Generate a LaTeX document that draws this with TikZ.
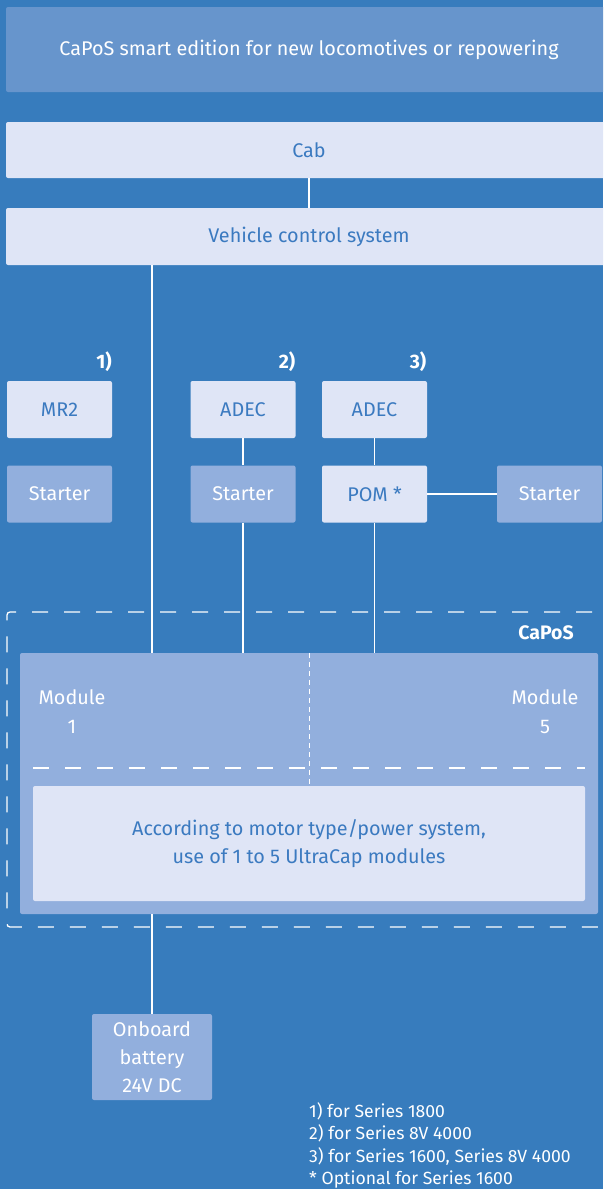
\documentclass[tikz,border=0pt]{standalone}
\usepackage{fontspec}
\setmainfont{Fira Sans}
\usepackage{tikz}
\usetikzlibrary{positioning}
\definecolor{capbg}{RGB}{55,124,189}
\definecolor{captitle}{RGB}{103,149,204}
\definecolor{caplight}{RGB}{223,229,246}
\definecolor{capmid}{RGB}{146,175,221}
\definecolor{captext}{RGB}{59,122,192}

\begin{document}
\begin{tikzpicture}[x=1pt,y=-1pt,
  box/.style={rounded corners=2pt,inner sep=0pt,align=center,font=\fontsize{19.8}{28}\selectfont},
  lightbox/.style={box,fill=caplight,text=captext},
  midbox/.style={box,fill=capmid,text=white},
  small/.style={lightbox,minimum width=105pt,minimum height=57pt},
  smallmid/.style={midbox,minimum width=105pt,minimum height=57pt},
  tag/.style={text=white,font=\fontsize{19.5}{22}\selectfont\bfseries},
  link/.style={draw=white,line width=1.3pt}]
\clip (0,0) rectangle (603,1189);
\fill[capbg] (0,0) rectangle (603,1189);

% Header
\node[box,fill=captitle,text=white,minimum width=606pt,minimum height=85pt] (title) at (309,49.5) {CaPoS smart edition for new locomotives or repowering};
\node[lightbox,minimum width=606pt,minimum height=56pt] (cab) at (309,150) {Cab};
\node[lightbox,minimum width=606pt,minimum height=57pt] (vcs) at (309,236.5) {Vehicle control system};

% Engine variants
\node[tag] (varA) at (104,362) {1)};
\node[tag] (varB) at (287,362) {2)};
\node[tag] (varC) at (418,362) {3)};
\node[small] (mrtwo) at (59.5,409.5) {MR2};
\node[smallmid] (startA) at (59.5,494) {Starter};
\node[small] (adecA) at (243,409.5) {ADEC};
\node[smallmid] (startB) at (243,494) {Starter};
\node[small] (adecB) at (374.5,409.5) {ADEC};
\node[small] (pom) at (374.5,494) {POM *};
\node[smallmid] (startC) at (549.5,494) {Starter};

% CaPoS frame
\node[draw=white,line width=1.3pt,dash pattern=on 16pt off 16pt,rounded corners=3pt,minimum width=620pt,minimum height=315pt,inner sep=0pt] (capos) at (317,769.5) {};
\node[tag] (caplabel) at (546,633) {CaPoS};
\node[midbox,minimum width=578pt,minimum height=261pt] (modules) at (309,783.5) {};
\node[lightbox,minimum width=552pt,minimum height=115pt] (ucap) at (309,843.5) {According to motor type/power system,\\use of 1 to 5 UltraCap modules};
\node[box,text=white,font=\fontsize{19.8}{29}\selectfont] (modone) at (72,711.5) {Module\\1};
\node[box,text=white,font=\fontsize{19.8}{29}\selectfont] (modfive) at (545,711.5) {Module\\5};
\draw[white,line width=1pt,dash pattern=on 5pt off 4pt] (modules.north) -- (modules.north |- ucap.north);
\draw[white,line width=1.3pt,dash pattern=on 16pt off 16pt] (33,768) -- (585,768);

% Battery
\node[midbox,minimum width=120pt,minimum height=86pt] (batt) at (152,1057) {Onboard\\battery\\24V DC};

% Connections
\draw[link] (cab) -- (vcs);
\draw[link] (batt.north |- vcs.south) -- (batt.north |- modules.north);
\draw[link] (adecA) -- (startB);
\draw[link] (startB) -- (startB |- modules.north);
\draw[link] (adecB) -- (pom);
\draw[link] (pom) -- (pom |- modules.north);
\draw[link] (pom) -- (startC);
\draw[link] (modules.south -| batt.north) -- (batt);

% Notes
\node[anchor=north west,align=left,text=white,inner sep=0pt,font=\fontsize{17.6}{22.5}\selectfont] (notes) at (309,1102) {1) for Series 1800\\2) for Series 8V 4000\\3) for Series 1600, Series 8V 4000\\* Optional for Series 1600};
\end{tikzpicture}
\end{document}
